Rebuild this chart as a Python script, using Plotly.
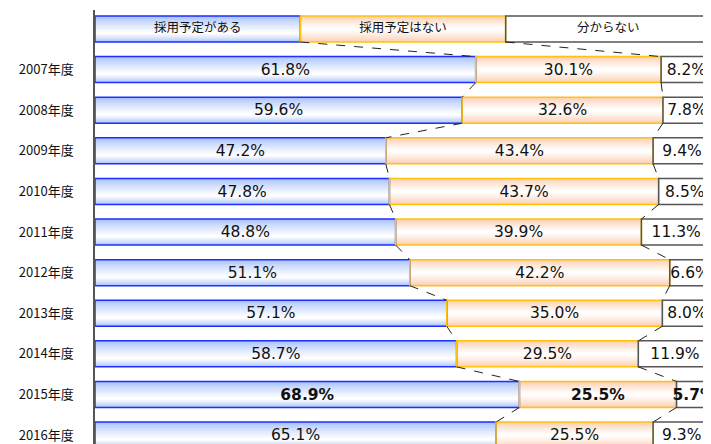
import plotly.graph_objects as go

# ---- data ----
years = ["2007年度", "2008年度", "2009年度", "2010年度", "2011年度", "2012年度",
         "2013年度", "2014年度", "2015年度", "2016年度"]
series_names = ["採用予定がある", "採用予定はない", "分からない"]
yes_vals = [61.8, 59.6, 47.2, 47.8, 48.8, 51.1, 57.1, 58.7, 68.9, 65.1]
no_vals = [30.1, 32.6, 43.4, 43.7, 39.9, 42.2, 35.0, 29.5, 25.5, 25.5]
unk_vals = [8.2, 7.8, 9.4, 8.5, 11.3, 6.6, 8.0, 11.9, 5.7, 9.3]
bold_year = "2015年度"

# header row (legend-like bar) + years
rows = [""] + years
header_share = [100 / 3] * 3
vals = [
    [header_share[0]] + yes_vals,
    [header_share[1]] + no_vals,
    [header_share[2]] + unk_vals,
]
ypos = list(range(len(rows)))

FONT = "Noto Sans CJK JP"
NUMFONT = "DejaVu Sans"
BW = 0.64  # bar thickness in category units


def hex2rgb(h):
    h = h.lstrip("#")
    return tuple(int(h[i:i + 2], 16) for i in (0, 2, 4))


def mix(c1, c2, t):
    a, b = hex2rgb(c1), hex2rgb(c2)
    return "rgb(%d,%d,%d)" % tuple(round(a[i] + (b[i] - a[i]) * t) for i in range(3))


styles = [
    dict(border="#1f2fff", outer="#a6c1fb", inner="#ffffff", n=12, shift=0.10),
    dict(border="#ffc20e", outer="#fccdae", inner="#ffffff", n=12, shift=0.0),
    dict(border="#555555", outer="#ffffff", inner="#ffffff", n=1, shift=0.0),
]

fig = go.Figure()

bases = []
for r in range(len(rows)):
    b = [0.0]
    for s in range(3):
        b.append(b[-1] + vals[s][r])
    bases.append(b)

for s in range(3):
    st = styles[s]
    xs = vals[s]
    base = [bases[r][s] for r in range(len(rows))]
    n = st["n"]
    for k in range(n):
        t = k / max(n - 1, 1)
        w = BW * (1 - 0.92 * t) if n > 1 else BW
        col = mix(st["outer"], st["inner"], t ** 0.8) if n > 1 else st["outer"]
        off = -w / 2 + st["shift"] * t
        fig.add_trace(go.Bar(
            y=ypos, x=xs, base=base, orientation="h",
            width=w, offset=off,
            marker=dict(color=col, line=dict(color=col, width=0)),
            showlegend=False, hoverinfo="skip",
        ))

# borders on top
for s in range(3):
    st = styles[s]
    fig.add_trace(go.Bar(
        y=ypos, x=vals[s], base=[bases[r][s] for r in range(len(rows))],
        orientation="h", width=BW, offset=-BW / 2,
        marker=dict(color="rgba(0,0,0,0)", line=dict(color=st["border"], width=1.5)),
        showlegend=False, hoverinfo="skip",
    ))

# dashed series lines between consecutive bars
lx, ly = [], []
for r in range(len(rows) - 1):
    for s in (1, 2):
        lx += [bases[r][s], bases[r + 1][s], None]
        ly += [r + BW / 2, r + 1 - BW / 2, None]
fig.add_trace(go.Scatter(x=lx, y=ly, mode="lines",
                         line=dict(color="#222222", width=1, dash="dash"),
                         showlegend=False, hoverinfo="skip"))

# labels
for s in range(3):
    tx, ty, tt = [], [], []
    for r in range(1, len(rows)):
        center = bases[r][s] + vals[s][r] / 2
        t = f"{vals[s][r]:.1f}%"
        if rows[r] == bold_year:
            t = f"<b>{t}</b>"
        tx.append(center); ty.append(r + 0.03); tt.append(t)
    fig.add_trace(go.Scatter(x=tx, y=ty, text=tt, mode="text", cliponaxis=False,
                             textfont=dict(family=NUMFONT, size=15.5, color="#111111"),
                             showlegend=False, hoverinfo="skip"))

# header labels
fig.add_trace(go.Scatter(
    x=[bases[0][s] + vals[s][0] / 2 for s in range(3)], y=[0, 0, 0],
    text=series_names, mode="text", cliponaxis=False,
    textfont=dict(family=FONT, size=12.5, color="#111111"),
    showlegend=False, hoverinfo="skip"))

# page body has an 8px default margin, so size the figure to fit the window
fig.update_layout(
    width=703, height=436,
    margin=dict(l=87, r=0, t=2, b=0, autoexpand=False),
    barmode="overlay",
    plot_bgcolor="white", paper_bgcolor="white",
    xaxis=dict(range=[0, 100], visible=False, fixedrange=True, automargin=False),
    yaxis=dict(range=[10.22, -0.468], tickmode="array", tickvals=ypos,
               ticktext=rows, showgrid=False, zeroline=False, automargin=False,
               showline=True, linecolor="#555555", linewidth=1.5,
               ticks="", ticklabelstandoff=17,
               tickfont=dict(family=FONT, size=13, color="#111111")),
    font=dict(family=FONT),
)

fig.write_html("out.html")
